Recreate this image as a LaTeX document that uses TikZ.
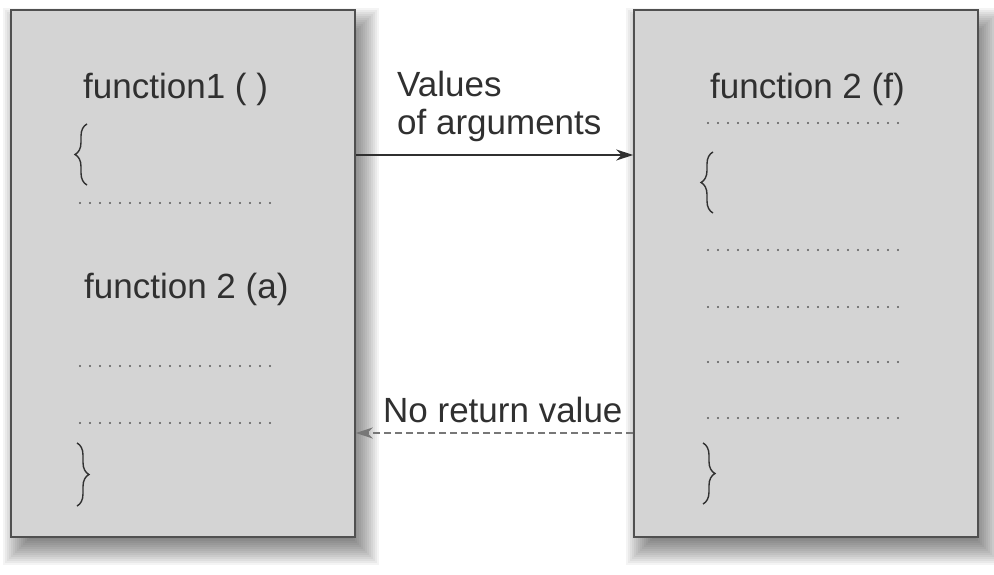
\documentclass[tikz,border=0pt]{standalone}
\usepackage{fontspec}
\setmainfont{Liberation Sans}
\usetikzlibrary{arrows.meta,decorations.pathreplacing,calc}
\definecolor{boxfill}{HTML}{D4D4D4}
\definecolor{boxline}{HTML}{505050}
\definecolor{txt}{HTML}{303030}
\definecolor{dotc}{HTML}{5A5A5A}
\definecolor{dashc}{HTML}{777777}
\begin{document}
\begin{tikzpicture}[x=1pt,y=-1pt,
  fbox/.style={draw=boxline, line width=1.6pt, fill=boxfill, minimum width=344pt, minimum height=527pt, inner sep=0pt},
  lbl/.style={anchor=base west, inner sep=0pt, text=txt, font=\fontsize{35}{39}\selectfont},
  dotline/.style={draw=dotc, line width=2.4pt, line cap=round, dash pattern=on 0pt off 10pt},
  brc/.style={draw=txt, line width=1.4pt, decorate, decoration={brace, amplitude=12pt}},
  arr/.style={-{Stealth[length=17pt,width=11pt]}, line width=1.8pt, draw=txt},
  darr/.style={-{Stealth[length=17pt,width=11pt]}, line width=1.8pt, draw=dashc, dash pattern=on 7pt off 4pt}
]
\useasboundingbox[fill=white] (0,0) rectangle (994,575);
% shadows
\foreach \r in {16,14,...,-14} {
  \fill[black,opacity=0.045] ({11+8-\r},{10+14-\r}) rectangle ({355+8+\r},{537+12+\r});
  \fill[black,opacity=0.045] ({634+8-\r},{10+14-\r}) rectangle ({978+8+\r},{537+12+\r});
}
% boxes
\node[fbox] (L) at (183,273.5) {};
\node[fbox] (R) at (806,273.5) {};
% left box content
\node[lbl] (t1) at (83,99) {function1 ( )};
\draw[brc] (87,185) -- (87,124);
\draw[dotline] (80,203) -- (271,203);
\node[lbl] (t2) at (84,298) {function 2 (a)};
\draw[dotline] (80,366) -- (271,366);
\draw[dotline] (80,423) -- (271,423);
\draw[brc] (77,443) -- (77,506);
% right box content
\node[lbl] (t3) at (710,99) {function 2 (f)};
\draw[dotline] (708,123) -- (899,123);
\draw[brc] (713,213) -- (713,152);
\draw[dotline] (708,250) -- (899,250);
\draw[dotline] (708,307) -- (899,307);
\draw[dotline] (708,362) -- (899,362);
\draw[dotline] (708,418) -- (899,418);
\draw[brc] (703,443) -- (703,504);
% connectors
\coordinate (ya) at (0,155);
\coordinate (yb) at (0,433);
\draw[arr] (L.east |- ya) -- (R.west |- ya);
\draw[darr] (R.west |- yb) -- (L.east |- yb);
\node[lbl] (v1) at (397,97) {Values};
\node[lbl] (v2) at (397,135) {of arguments};
\node[lbl] (nr) at (383,422) {No return value};
\end{tikzpicture}
\end{document}
